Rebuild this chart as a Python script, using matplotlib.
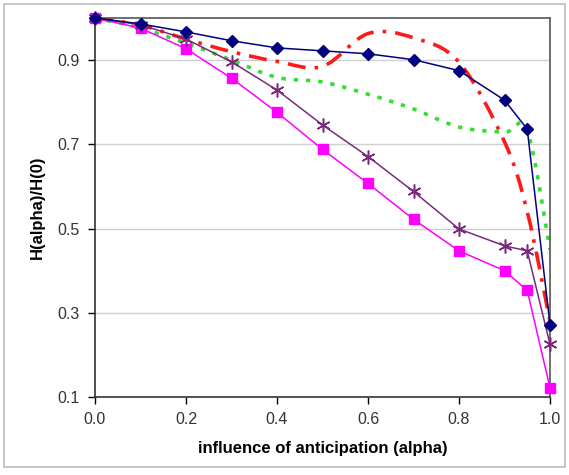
import matplotlib
matplotlib.use('Agg')
import matplotlib.pyplot as plt
from matplotlib.patches import Rectangle, PathPatch
from matplotlib.path import Path

plt.rcParams['font.family'] = ['Liberation Sans', 'DejaVu Sans']

alpha = [0.0, 0.1, 0.2, 0.3, 0.4, 0.5, 0.6, 0.7, 0.8, 0.9, 0.95, 1.0]

blue_diamond = [1.0, 0.986, 0.967, 0.946, 0.929, 0.922, 0.915, 0.901, 0.875, 0.805, 0.736, 0.272]
red_dashdot = [1.0, 0.983, 0.950, 0.920, 0.897, 0.885, 0.963, 0.953, 0.895, 0.706, 0.54, 0.28]
green_dotted = [1.0, 0.976, 0.940, 0.900, 0.859, 0.848, 0.819, 0.784, 0.741, 0.729, 0.732, 0.45]
purple_star = [1.0, 0.984, 0.950, 0.896, 0.829, 0.746, 0.671, 0.588, 0.499, 0.459, 0.447, 0.225]
magenta_square = [1.0, 0.976, 0.927, 0.857, 0.776, 0.688, 0.607, 0.522, 0.447, 0.400, 0.353, 0.122]

yticks = [0.1, 0.3, 0.5, 0.7, 0.9]
xticks = [0.0, 0.2, 0.4, 0.6, 0.8, 1.0]


def smooth_path(xs, ys):
    # excel-style "smoothed line": bezier segments through the data points
    pts = list(zip(xs, ys))
    verts = [pts[0]]
    codes = [Path.MOVETO]
    n = len(pts)
    for i in range(n - 1):
        p0 = pts[i - 1] if i > 0 else pts[i]
        p1 = pts[i]
        p2 = pts[i + 1]
        p3 = pts[i + 2] if i + 2 < n else pts[i + 1]
        c1 = (p1[0] + (p2[0] - p0[0]) / 6, p1[1] + (p2[1] - p0[1]) / 6)
        c2 = (p2[0] - (p3[0] - p1[0]) / 6, p2[1] - (p3[1] - p1[1]) / 6)
        verts += [c1, c2, p2]
        codes += [Path.CURVE4] * 3
    return Path(verts, codes)


fig = plt.figure(figsize=(5.69, 4.75), dpi=100)
ax = fig.add_axes([95/569, 1 - 397/475, 455/569, 379/475])

ax.add_patch(PathPatch(smooth_path(alpha, green_dotted), fill=False, edgecolor='#33dd33',
                       linewidth=2.6, linestyle=(0, (1.2, 2.2)), zorder=2))
ax.add_patch(PathPatch(smooth_path(alpha, red_dashdot), fill=False, edgecolor='#ff1a1a',
                       linewidth=2.6, linestyle=(0, (5, 2.5, 1, 2.5)), zorder=2))
ax.plot(alpha, magenta_square, color='#ff00ff', linewidth=1.1, marker='s', markersize=7, clip_on=False, zorder=3)
ax.plot(alpha, purple_star, color='#7a2a7a', linewidth=1.1, marker=(6, 2, 0), markersize=10,
        markeredgewidth=1.1, clip_on=False, zorder=4)
ax.plot(alpha, blue_diamond, color='#000080', linewidth=1.1, marker='D', markersize=6.5, clip_on=False, zorder=5)

ax.set_xlim(0, 1)
ax.set_ylim(0.1, 1.0)
ax.set_xticks(xticks)
ax.set_xticklabels(['%.1f' % v for v in xticks])
ax.set_yticks(yticks)
ax.set_yticklabels(['%.1f' % v for v in yticks])
ax.tick_params(direction='out', length=5, width=1, labelsize=11.5, colors='#000000', pad=6)
ax.tick_params(axis='x', labelcolor='#333333')
ax.tick_params(axis='y', labelcolor='#333333')
for v in yticks[1:]:
    ax.axhline(v, color='#d0d0d0', linewidth=1, zorder=0)

ax.spines['left'].set_color('#333333')
ax.spines['bottom'].set_color('#333333')
ax.spines['top'].set_color('#555555')
ax.spines['right'].set_color('#555555')
for s in ax.spines.values():
    s.set_linewidth(1.2)

ax.set_xlabel('influence of anticipation (alpha)', fontsize=12, fontweight='bold', labelpad=10)
ax.set_ylabel('H(alpha)/H(0)', fontsize=12, fontweight='bold', labelpad=9)

fig.patches.append(Rectangle((4/569, 8/475), 561/569, 463/475, transform=fig.transFigure,
                             fill=False, edgecolor='#bbbbbb', linewidth=1.2))

fig.savefig('out.png', dpi=100)
